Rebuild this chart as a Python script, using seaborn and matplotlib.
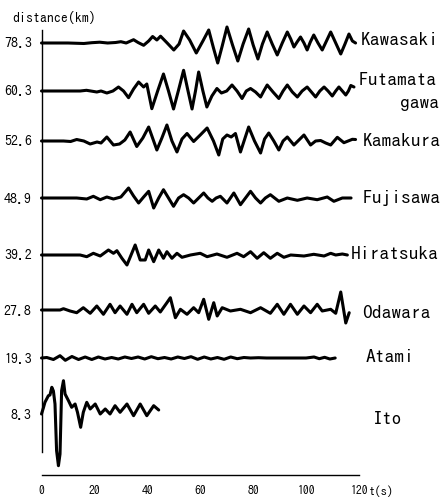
import matplotlib
matplotlib.use("Agg")
import matplotlib.pyplot as plt
import pandas as pd
import seaborn as sns

# ---------------- data ----------------
stations = ["Kawasaki", "Futamata", "Kamakura", "Fujisawa",
            "Hiratsuka", "Odawara", "Atami", "Ito"]
distances = ["78.3", "60.3", "52.6", "48.9", "39.2", "27.8", "19.3", "8.3"]
x_ticks = [0, 20, 40, 60, 80, 100, 120]

# (time s, amplitude)
kawasaki = [(0, 0), (10, 0), (16, -0.5), (19, 0.3), (22, 0.8), (25, 0), (28, 0.5), (30, 1.3),
            (32, 0), (34.8, 3.3), (36.5, 0.5), (38.6, -2.3), (40.5, 2), (42.0, 6.5), (43.6, 3),
            (45.0, 6.8), (47.5, 0), (50.0, -7), (52.0, -1), (53.7, 12), (56.0, 3), (58.5, -10),
            (61.0, 2), (63.2, 13), (65.0, -5), (66.6, -20), (68.3, -3), (70.1, 16), (72.2, -2),
            (74.2, -18), (76.2, -1), (78.3, 14), (80.0, -2), (81.8, -16), (83.5, -1), (85.3, 11),
            (87.2, -1), (89.1, -12), (91.0, 0), (92.9, 11), (94.2, 4), (95.4, -4), (96.6, 1),
            (97.9, 6), (99.2, 0), (100.4, -7), (101.6, 1), (102.9, 8), (104.5, 0), (106.1, -7),
            (107.7, 2), (109.3, 11), (111.2, 0), (113.1, -11), (114.7, -1), (116.2, 9),
            (117.5, 2), (118.7, 0)]
futamata = [(0, 0), (14.6, 0), (17, 0.7), (20.9, -1), (22.5, 0), (24.7, -2), (27, 0), (29.1, 4),
            (31, 0), (32.9, -6.7), (34.8, 2), (36.7, 9), (38.6, 4), (39.8, 7), (41.7, -17.7),
            (43.9, 0), (46.1, 17), (48.0, 0), (49.9, -18), (51.8, 1), (53.7, 20.7), (55.3, 1),
            (56.9, -18), (58.2, 0), (59.4, 19), (61.0, 0), (62.5, -16), (64.4, -5), (66.3, 2.5),
            (68, -2), (70, 0), (72.0, 6), (73.9, 0), (75.8, -7.5), (77.4, 0), (79.0, 2.5),
            (80.9, -1), (82.8, -6), (84.0, 0), (85.3, 6), (87.5, -1), (89.7, -7.5), (91.3, 0),
            (92.9, 6), (94.8, -1), (96.7, -6), (98.5, 0), (100.4, 4), (102.0, -1), (103.6, -6),
            (105.2, 0), (106.8, 4), (108.3, 0), (109.9, -5), (111.2, 0), (112.4, 4), (113.7, 0),
            (115.0, -4), (116.0, 0), (116.9, 5.5), (118.1, 4)]
kamakura = [(0, 0), (8.3, 0), (11, -0.5), (13.3, 1.5), (16, 0), (18.4, -3), (21, -1), (22.5, -2),
            (24.7, 4), (27.2, -4), (29.5, -3), (31.5, 1), (33.5, 9), (36.0, -5.5), (38.3, 3),
            (40.5, 14), (43.6, -9), (45.5, 3), (47.4, 16), (49.3, 0), (51.2, -11), (53.1, 2),
            (55.0, 7.5), (57.5, -0.5), (60.0, 6), (62.6, 13), (65.0, 0), (67.0, -14), (68.5, 2),
            (70.1, 6), (71.7, 4), (73.3, 7.5), (75.2, -11), (76.8, 2), (78.3, 14), (80.5, 0),
            (82.8, -12), (84.3, 2), (85.9, 8), (87.8, 0), (89.7, -9), (91.3, 0), (92.9, 4),
            (95.4, -4), (97.3, 1), (99.2, 6), (101.7, -4), (103.6, 0), (105.5, 0.5), (107.4, -2),
            (109.3, -4), (111.8, 3.7), (114.3, -1.7), (117.5, 1.7), (118.7, 1.5)]
fujisawa = [(0, 0), (13.3, 0), (17.1, -1), (19.6, 1.7), (22.2, -1.7), (24.7, 1), (27.2, -1),
            (30, 1), (32.9, 10), (34.8, 2), (36.7, -5), (38.6, 1), (40.5, 6.7), (42.4, -10),
            (44.3, 0), (46.1, 8.3), (48.0, 0), (49.9, -8.3), (51.8, 0), (53.7, 3.3), (55.6, 0),
            (57.5, -5), (59.4, 0), (61.3, 5), (62.9, 0), (64.5, -3.3), (66.0, 0), (67.6, 1.7),
            (70.1, -5), (72.7, 5), (75.2, -6.7), (77.1, 0), (79.0, 6.7), (80.9, 0), (82.8, -5),
            (84.6, 0), (86.5, 3.3), (89.7, -3.3), (92.9, 0), (96.7, -2.3), (100.4, 0),
            (104.2, -1.7), (108.0, 1), (110.5, -3.3), (113.7, 0), (117, 0)]
hiratsuka = [(0, 0), (14.6, 0), (17.1, -1.7), (19.6, 1.7), (22.2, -1), (25.3, 5), (27.2, 1.7),
             (28.5, 4.3), (30.4, -3.3), (32.3, -10), (35.4, 10), (37.3, -5), (39.2, -5),
             (40.5, 5), (42.4, -6.7), (44.3, 5), (46.1, -3.3), (47.4, 3.3), (49.3, -3.3),
             (51.2, 1.7), (53.1, -2.3), (56.3, 0), (60.0, 1.7), (62.6, -1.7), (66.3, 1),
             (70.1, -2.3), (73.9, 1.7), (76.4, -1.7), (79.0, 3.3), (81.5, -3.3), (84.0, 2.3),
             (86.5, -3.3), (89.1, 1.7), (91.6, -2.3), (94.2, 0), (99.2, -1), (102.9, 0.7),
             (106.8, -1), (109.3, 1.7), (111.2, 0), (113.7, 1), (115.6, 0)]
odawara = [(0, 0), (7.0, 0), (8.3, 1.3), (10.8, -1), (13.3, -2.7), (15.8, 2.3), (18.4, -3.3),
           (20.9, 4), (23.4, -4.3), (25.9, 5.7), (27.8, -2.7), (29.7, 4), (32.3, -4.3),
           (34.2, 5.7), (36.0, -2.7), (38.6, 5.7), (40.5, -3.3), (43.0, 4), (44.9, -2),
           (47.4, 7.3), (48.7, 12.3), (50.6, -7.7), (52.5, 0.7), (55.0, -4.3), (57.5, 2.3),
           (59.4, -2.7), (61.3, 10.7), (63.2, -9.3), (65.1, 7.3), (66.4, -6), (68.3, 2.3),
           (71.4, -1), (75.2, 0.7), (79.0, -2.7), (82.8, 2.3), (86.5, -3.3), (89.1, 5.7),
           (91.6, -4.3), (94.1, 5.7), (96.7, -4.3), (99.2, 4), (101.7, -2.7), (104.2, 5.7),
           (106.1, -1), (109.3, 0.7), (111.2, -3.3), (113.1, 18), (115.0, -13), (116.3, -2.7)]
atami = [(0, 0), (2, 0.5), (4.5, -1.5), (7, 2.3), (9, -2.3), (11.5, 1.5), (14, -1.5), (16.5, 1),
         (19, -1.5), (21.5, 1), (24, -1), (26.5, 0.5), (29, -1), (31.5, 1), (34, -0.5),
         (36.5, 1), (39, -1), (41.5, 1.3), (44, -0.7), (46.5, 0.5), (49, -1), (51.5, 1),
         (54, -0.5), (56.5, 1.3), (59, -1.3), (61.5, 1), (64, -1), (66.5, 0.5), (69, -1.3),
         (71.5, 1), (74, -0.7), (76.5, 0.5), (79, 0), (82, 0.3), (85, 0), (100, 0), (103, 1),
         (105, -0.7), (107, 0.7), (109, -1), (111, 0)]
ito = [(0, 0), (0.7, 6), (1.3, 11.7), (2.6, 18.3), (3.2, 19), (3.9, 26.7), (4.5, 23), (5.1, 10),
       (5.7, -36.7), (6.4, -51.7), (7.0, -40), (7.6, 23.3), (8.3, 33.3), (8.9, 20), (10.2, 13.3),
       (11.4, 6.7), (12.7, 10), (13.6, 1.7), (14.8, -13.3), (15.8, 1.7), (17.1, 11.7),
       (18.4, 5), (20.3, 10), (22.2, 0), (24.1, 5), (25.9, 0), (27.8, 8.3), (29.7, 1.7),
       (32.3, 10), (34.8, -1.7), (37.3, 10), (39.8, -1.7), (42.4, 8.3), (44.3, 4)]

traces = [kawasaki, futamata, kamakura, fujisawa, hiratsuka, odawara, atami, ito]

# ---------------- layout ----------------
W, H = 441, 504
ax_left_px, ax_right_px, ax_bottom_px, ax_top_px = 41.5, 359, 475, 20
baselines = [432, 384, 334, 277, 220, 165, 117, 61]   # row positions (axes units)

rows = []
for name, base, tr in zip(stations, baselines, traces):
    for t, a in tr:
        rows.append({"station": name, "t": t, "y": base + a})
df = pd.DataFrame(rows)

sns.set_style("white")
plt.rcParams["font.family"] = ["IPAGothic", "DejaVu Sans"]
plt.rcParams["text.color"] = "black"
plt.rcParams["xtick.color"] = "black"
plt.rcParams["ytick.color"] = "black"
plt.rcParams["axes.labelcolor"] = "black"

fig = plt.figure(figsize=(W / 100, H / 100), dpi=100)
ax = fig.add_axes([ax_left_px / W, (H - ax_bottom_px) / H,
                   (ax_right_px - ax_left_px) / W, (ax_bottom_px - ax_top_px) / H])

sns.lineplot(data=df, x="t", y="y", units="station", estimator=None, sort=False,
             color="black", linewidth=2.2, solid_joinstyle="round",
             solid_capstyle="round", ax=ax, legend=False, clip_on=False)

ax.set_xlim(0, 120)
ax.set_ylim(0, ax_bottom_px - ax_top_px)
ax.set_xlabel("")
ax.set_ylabel("")

for s in ["top", "right"]:
    ax.spines[s].set_visible(False)
for s in ["left", "bottom"]:
    ax.spines[s].set_color("black")
    ax.spines[s].set_linewidth(1.0)
ax.spines["left"].set_bounds(23, 445)

ax.set_xticks(x_ticks)
ax.set_xticklabels([str(v) for v in x_ticks])
ax.tick_params(axis="x", direction="in", length=5.5, width=1.0, color="black",
               labelcolor="black", pad=7, labelsize=8.5)
ax.set_yticks(baselines)
ax.set_yticklabels(distances)
ax.tick_params(axis="y", length=0, pad=7, labelsize=10, labelcolor="black")

# axis captions
fig.text(12 / W, (H - 17) / H, "distance(km)", fontsize=10, ha="left", va="center")
fig.text(369 / W, (H - 491) / H, "t(s)", fontsize=9, ha="left", va="center")

# station names
label_pos = [(120.6, 3), (119.9, 11), (121.3, 0), (121.3, 0),
             (117.0, 1), (121.3, -3), (122.4, 1), (125.4, -5)]
for name, base, (lx, dy) in zip(stations, baselines, label_pos):
    ax.text(lx, base + dy, name, fontsize=14, ha="left", va="center", clip_on=False)
ax.text(150.3, baselines[1] - 12, "gawa", fontsize=14, ha="right", va="center",
        clip_on=False)

fig.savefig("out.png", dpi=100, facecolor="white")
